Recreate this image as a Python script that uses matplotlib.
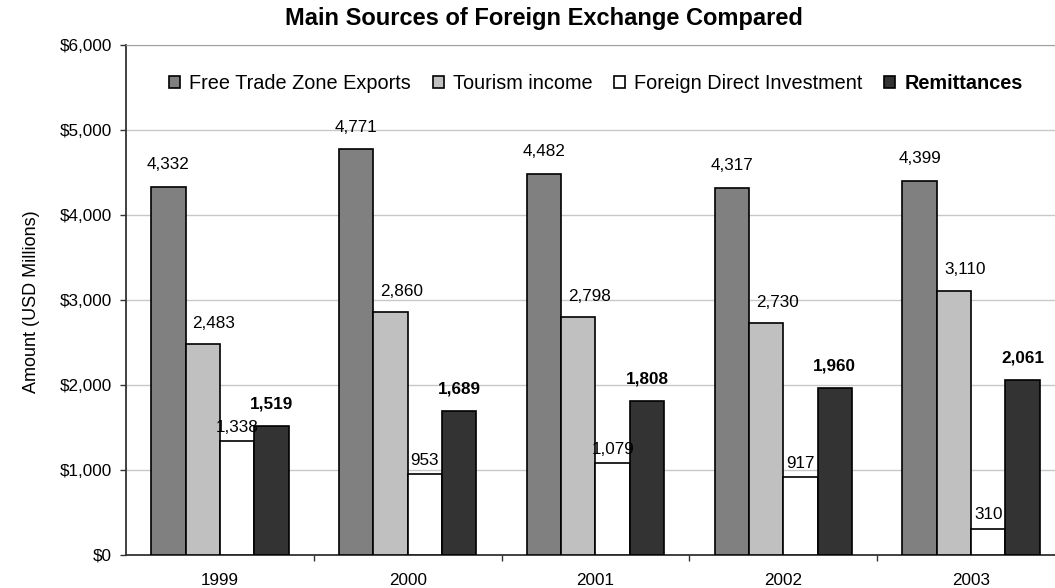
import numpy as np
import matplotlib
matplotlib.use("Agg")
import matplotlib.pyplot as plt
from matplotlib.ticker import FuncFormatter, FixedLocator

years = ["1999", "2000", "2001", "2002", "2003"]
series_names = ["Free Trade Zone Exports", "Tourism income",
                "Foreign Direct Investment", "Remittances"]
free_trade_zone = [4332, 4771, 4482, 4317, 4399]
tourism = [2483, 2860, 2798, 2730, 3110]
fdi = [1338, 953, 1079, 917, 310]
remittances = [1519, 1689, 1808, 1960, 2061]

plt.rcParams['font.family'] = ['Liberation Sans', 'DejaVu Sans']

colors = ["#808080", "#C0C0C0", "#FFFFFF", "#333333"]
# label offsets (points) from the top centre of each bar
label_dx = [0, 8, 0, 0]
label_dy = [16, 15, 10, 16]
label_weights = ["normal", "normal", "normal", "bold"]

fig = plt.figure(figsize=(10.55, 5.88), dpi=100)
ax = fig.add_axes([126 / 1055, 33 / 588, 1 - 126 / 1055, 510 / 588])

x = np.arange(len(years))
width = 0.183
all_series = [free_trade_zone, tourism, fdi, remittances]
for i, (vals, name) in enumerate(zip(all_series, series_names)):
    pos = x + (i - 1.5) * width
    bars = ax.bar(pos, vals, width, color=colors[i], edgecolor="black",
                  linewidth=1.2, label=name, zorder=3)
    for b, v in zip(bars, vals):
        ax.annotate(f"{v:,}", (b.get_x() + b.get_width() / 2, v),
                    xytext=(label_dx[i], label_dy[i]), textcoords="offset points",
                    ha="center", va="center", fontsize=12.3,
                    fontweight=label_weights[i], zorder=4)

ax.set_xlim(-0.5, 4.447)
ax.set_ylim(0, 6000)
ax.set_yticks(np.arange(0, 6001, 1000))
ax.yaxis.set_major_formatter(FuncFormatter(lambda v, p: f"${v:,.0f}"))
ax.set_xticks(x)
ax.set_xticklabels(years)
ax.xaxis.set_minor_locator(FixedLocator(x[:-1] + 0.5))
ax.tick_params(axis="x", which="major", length=0, pad=13, labelsize=12.3)
ax.tick_params(axis="x", which="minor", length=4, width=1, color="#333333",
               direction="out")
ax.tick_params(axis="y", length=4, width=1, color="#333333", pad=6,
               labelsize=12.3)

ax.grid(axis="y", color="#C8C8C8", linewidth=1, zorder=0)
ax.set_axisbelow(True)
ax.spines["right"].set_visible(False)
ax.spines["top"].set_color("#A0A0A0")
ax.spines["left"].set_color("#333333")
ax.spines["left"].set_linewidth(1.3)
ax.spines["bottom"].set_color("#333333")
ax.spines["bottom"].set_linewidth(1.3)

fig.text(32 / 1055, 1 - 302 / 588, "Amount (USD Millions)", rotation=90,
         ha="center", va="center", fontsize=13)
fig.text(544 / 1055, 1 - 18 / 588, "Main Sources of Foreign Exchange Compared",
         ha="center", va="center", fontsize=17, fontweight="bold")

leg = fig.legend(loc="center", bbox_to_anchor=(596 / 1055, 1 - 84 / 588),
                 ncol=4, frameon=False, fontsize=14.3, handlelength=0.55,
                 handleheight=0.55, handletextpad=0.45, columnspacing=1.1,
                 borderpad=0)
for t in leg.get_texts():
    if t.get_text() == "Remittances":
        t.set_fontweight("bold")

fig.savefig("out.png", dpi=100)
